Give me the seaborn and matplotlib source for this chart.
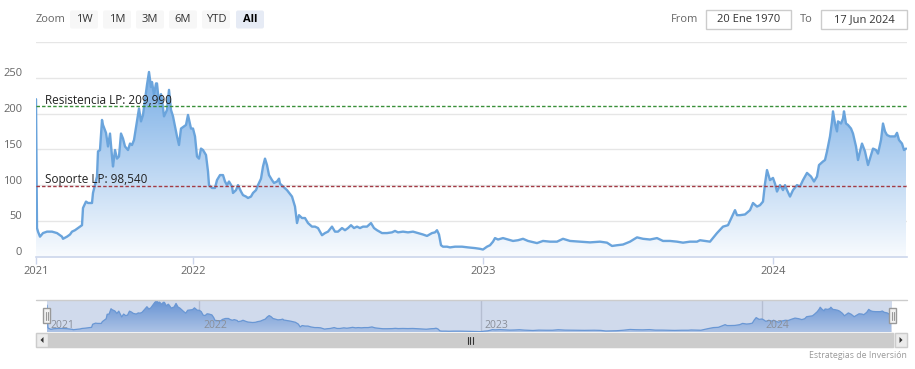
import numpy as np
import pandas as pd
import matplotlib
matplotlib.use("Agg")
import matplotlib.pyplot as plt
import matplotlib.transforms as mtransforms
from matplotlib.patches import Rectangle, FancyBboxPatch, Polygon
from matplotlib.colors import LinearSegmentedColormap
import seaborn as sns

# ---------------- data (ordinal position along the axis, price) ----------------
sesion = [0, 1, 2, 4, 7, 11, 16, 21, 26, 27, 31, 34, 36, 39, 42, 46, 47, 50, 52, 56,
          57, 61, 62, 64, 66, 67, 70, 72, 74, 76, 77, 79, 81, 83, 85, 87, 89, 92, 94, 96,
          98, 101, 103, 105, 107, 109, 111, 113, 115, 116, 118, 120, 121, 123, 125, 126,
          128, 131, 133, 135, 137, 141, 143, 145, 147, 150, 152, 155, 157, 159, 161, 163,
          165, 167, 170, 172, 173, 176, 179, 181, 184, 187, 189, 191, 193, 196, 197, 200,
          202, 205, 207, 210, 212, 215, 217, 220, 222, 225, 227, 229, 231, 233, 236, 238,
          241, 243,
          244, 251, 256, 259, 261, 263, 266, 269, 272, 276, 279, 282, 286, 289, 292, 296,
          299, 302, 306, 309, 312, 315, 318, 321, 324, 327, 331, 335, 338, 341, 346, 351,
          356, 359, 362, 367, 372, 377, 382, 387, 391, 396, 399, 401, 403, 405, 407, 411,
          414, 419, 426, 432, 439, 444, 447, 451, 454, 457, 459, 462, 467, 472, 477, 482,
          487, 492, 501, 507, 514, 521, 527, 534, 544, 554, 564, 571, 576, 581, 587, 594,
          601, 607, 614, 621, 627, 634, 641, 647, 654, 661,
          664, 674, 681, 687, 692, 696, 699, 701, 704, 709, 714, 717, 721, 724, 727, 729,
          731, 734, 737, 739, 741, 744, 747, 749, 751, 754, 757, 761, 764, 767, 771, 775,
          778, 781, 783, 787, 789, 791, 794, 796, 797, 799, 801, 802, 805, 807, 808, 810,
          812, 815, 817, 820, 822, 824, 826, 829, 832, 835, 837, 840, 842, 845, 847, 849,
          851, 854, 857, 859, 861, 863, 866, 868, 870]
precio = [220, 40, 35, 28, 33, 35, 35, 33, 28, 25, 28, 31, 35, 37, 40, 44, 68, 77, 75, 75,
          89, 112, 147, 149, 191, 184, 173, 154, 172, 140, 126, 149, 137, 140, 172, 165, 154, 149, 158, 156,
          163, 189, 207, 189, 198, 219, 240, 258, 237, 244, 226, 242, 242, 214, 227, 219,
          196, 205, 233, 205, 196, 168, 156, 179, 181, 184, 198, 179, 179, 168, 140, 137,
          151, 149, 142, 119, 100, 96, 96, 107, 114, 114, 105, 100, 105, 98, 89, 93,
          100, 91, 86, 84, 82, 84, 89, 93, 100, 109, 126, 137, 128, 114, 107, 103,
          105, 109,
          102, 93, 84, 70, 47, 58, 54, 54, 47, 42, 42, 40, 30, 33, 35, 42,
          35, 35, 40, 37, 40, 44, 40, 42, 40, 42, 42, 47, 40, 37, 33, 33,
          34, 36, 34, 35, 34, 35, 33, 31, 29, 33, 34, 37, 31, 16, 14, 14,
          13, 14, 14, 13, 12, 11, 10, 14, 16, 21, 26, 24, 26, 24, 22, 23,
          25, 22, 19, 22, 21, 21, 25, 22, 21, 20, 21, 19.6, 15, 16, 17, 21,
          27, 25, 24, 26, 22, 22, 21, 19.6, 21, 21,
          23, 21, 33, 42, 44, 56, 65, 58, 58, 59, 65, 75, 70, 72, 77, 102,
          121, 107, 110, 102, 91, 100, 93, 100, 93, 84, 93, 100, 98, 107, 117, 112,
          105, 112, 128, 133, 135, 147, 168, 189, 203, 186, 175, 189, 186, 193, 203, 186,
          184, 179, 172, 154, 135, 147, 158, 147, 128, 142, 151, 149, 144, 163, 186, 175,
          170, 168, 168, 168, 173, 163, 158, 149, 151]

anios = ["2021", "2022", "2023", "2024"]
anio_pos = [0, 157, 447, 737]
resistencia = 209.99
soporte = 98.54
etiqueta_res = "Resistencia LP: 209,990"
etiqueta_sop = "Soporte LP: 98,540"
botones = ["1W", "1M", "3M", "6M", "YTD", "All"]
desde = "20 Ene 1970"
hasta = "17 Jun 2024"
credito = "Estrategias de Inversión"
y_ticks = [0, 50, 100, 150, 200, 250, 300]

# ---------------- style ----------------
sns.set_theme(style="white")
plt.rcParams['font.family'] = ['Open Sans', 'DejaVu Sans']

W, H = 915, 369
fig = plt.figure(figsize=(9.15, 3.69), dpi=100)
fig.patch.set_facecolor('white')


def box(l, t, r, b):
    return [l / W, 1 - b / H, (r - l) / W, (b - t) / H]


df = pd.DataFrame({"sesion": sesion, "precio": precio})
XMAX = 871

LINE = '#6aa4dc'
TOP = (0.47, 0.68, 0.90)
BOT = (0.975, 0.985, 0.997)


def gradient_area(ax, x, y, ymin, ymax, top, bot, zorder=1):
    poly = ax.fill_between(x, y, ymin, color='none', lw=0)
    path = poly.get_paths()[0]
    cmap = LinearSegmentedColormap.from_list('g', [bot, top])
    grad = np.linspace(0, 1, 256).reshape(-1, 1)
    im = ax.imshow(grad, cmap=cmap, aspect='auto', origin='lower',
                   extent=[min(x), max(x), ymin, ymax], zorder=zorder,
                   interpolation='bicubic')
    im.set_clip_path(path, transform=ax.transData)


# ---------------- main chart ----------------
ax = fig.add_axes(box(36, 41.9, 907, 256.7))
ax.set_facecolor('white')
for yv in y_ticks[1:]:
    ax.axhline(yv, color='#e6e6e6', lw=1, zorder=0)

gradient_area(ax, df.sesion.values, df.precio.values, 0, max(precio), TOP, BOT, zorder=1)
sns.lineplot(data=df, x="sesion", y="precio", ax=ax, color=LINE, lw=1.7,
             estimator=None, zorder=3)

ax.axhline(resistencia, color='#3a8f3a', lw=1, ls=(0, (2.5, 1.5)), zorder=4)
ax.axhline(soporte, color='#a33b45', lw=1, ls=(0, (2.5, 1.5)), zorder=4)
ax.text(9, resistencia + 3, etiqueta_res, fontsize=8.5, color='#222222', va='baseline', zorder=5)
ax.text(9, soporte + 4, etiqueta_sop, fontsize=8.5, color='#222222', va='baseline', zorder=5)

ax.set_xlim(0, XMAX)
ax.set_ylim(0, 300)
ax.set_xlabel("")
ax.set_ylabel("")
for s in ['top', 'right', 'left']:
    ax.spines[s].set_visible(False)
ax.spines['bottom'].set_color('#ccd6eb')
ax.spines['bottom'].set_linewidth(1.2)

ax.set_xticks(anio_pos)
ax.set_xticklabels(anios)
ax.tick_params(axis='x', length=5, width=1, color='#ccd6eb', pad=2,
               labelsize=8, labelcolor='#666666', bottom=True)
ax.set_yticks(y_ticks)
ax.set_yticklabels([str(v) for v in y_ticks[:-1]] + [""])
ax.tick_params(axis='y', length=0, pad=10, labelsize=8, labelcolor='#666666', left=True)
off = mtransforms.ScaledTranslation(0, 5.5 / 100, fig.dpi_scale_trans)
for lab in ax.get_yticklabels():
    lab.set_transform(lab.get_transform() + off)

# ---------------- navigator ----------------
nav = fig.add_axes(box(47, 299.5, 892, 332))
nav.set_facecolor('white')
for p in anio_pos[1:]:
    nav.axvline(p, color='#d8d8d8', lw=1, zorder=0)
ymn, ymx = min(precio) - 3, max(precio) + 6
gradient_area(nav, df.sesion.values, df.precio.values, ymn, max(precio),
              (0.40, 0.60, 0.86), (0.80, 0.87, 0.96), zorder=1)
sns.lineplot(data=df, x="sesion", y="precio", ax=nav, color='#6b9fdc', lw=0.9,
             estimator=None, zorder=2)
nav.add_patch(Rectangle((0, 0), 1, 1, transform=nav.transAxes,
                        facecolor=(102 / 255, 133 / 255, 194 / 255), alpha=0.3,
                        lw=0, zorder=3))
nav.set_xlim(0, XMAX)
nav.set_ylim(ymn, ymx)
nav.set_xticks([])
nav.set_yticks([])
nav.set_xlabel("")
nav.set_ylabel("")
for s in nav.spines.values():
    s.set_visible(False)
for p, lab in zip(anio_pos, anios):
    nav.text(p + 4, 0.2, lab, transform=nav.get_xaxis_transform(),
             fontsize=7.5, color='#8a8f99', va='center', ha='left', zorder=4)

# ---------------- UI overlay (range selector, inputs, scrollbar, credits) ----------------
ui = fig.add_axes([0, 0, 1, 1])
ui.set_xlim(0, W)
ui.set_ylim(H, 0)
ui.axis('off')
ui.patch.set_alpha(0)

ui.text(36, 20, "Zoom", fontsize=8, color='#666666', va='center', ha='left')
bx = [70, 103, 136, 169, 202, 236]
for x0, b in zip(bx, botones):
    sel = (b == "All")
    ui.add_patch(FancyBboxPatch((x0, 10.5), 28, 18, boxstyle="round,pad=0,rounding_size=2",
                                facecolor='#e6ebf5' if sel else '#f7f7f7', edgecolor='none'))
    ui.text(x0 + 14, 20, b, fontsize=8, color='#000000' if sel else '#333333',
            fontweight='bold' if sel else 'normal', ha='center', va='center')

ui.text(698, 19.5, "From", fontsize=8, color='#666666', ha='right', va='center')
ui.add_patch(Rectangle((706, 9.5), 85, 19.5, facecolor='white', edgecolor='#cccccc', lw=1))
ui.text(748.5, 19.5, desde, fontsize=8, color='#333333', ha='center', va='center')
ui.text(813, 19.5, "To", fontsize=8, color='#666666', ha='right', va='center')
ui.add_patch(Rectangle((821, 9.5), 86, 19.5, facecolor='white', edgecolor='#cccccc', lw=1))
ui.text(864, 19.5, hasta, fontsize=8, color='#333333', ha='center', va='center')

# navigator outline
ui.plot([36, 907], [299.5, 299.5], color='#cccccc', lw=1)
# handles
for hx in [46.5, 892.5]:
    ui.add_patch(Rectangle((hx - 3.5, 308), 7, 15, facecolor='#f2f2f2', edgecolor='#999999', lw=1, zorder=6))
    for dx in (-1, 1):
        ui.plot([hx + dx, hx + dx], [311.5, 319.5], color='#999999', lw=0.8, zorder=7)

# scrollbar
ui.add_patch(Rectangle((36, 333), 871, 14, facecolor='#f2f2f2', edgecolor='#f2f2f2', lw=1))
ui.add_patch(Rectangle((48, 333), 845, 14, facecolor='#cccccc', edgecolor='#cccccc', lw=1))
ui.add_patch(Rectangle((36, 333), 12, 14, facecolor='#ebebeb', edgecolor='#cccccc', lw=1))
ui.add_patch(Rectangle((895, 333), 12, 14, facecolor='#ebebeb', edgecolor='#cccccc', lw=1))
ui.add_patch(Polygon([[43.5, 337], [43.5, 343], [40.5, 340]], closed=True, facecolor='#333333', lw=0))
ui.add_patch(Polygon([[899.5, 337], [899.5, 343], [902.5, 340]], closed=True, facecolor='#333333', lw=0))
for dx in (-2.5, 0, 2.5):
    ui.plot([470 + dx, 470 + dx], [336.5, 343.5], color='#333333', lw=0.8)

ui.text(907, 355, credito, fontsize=6.3, color='#999999', ha='right', va='center')

fig.savefig("out.png", dpi=100)
